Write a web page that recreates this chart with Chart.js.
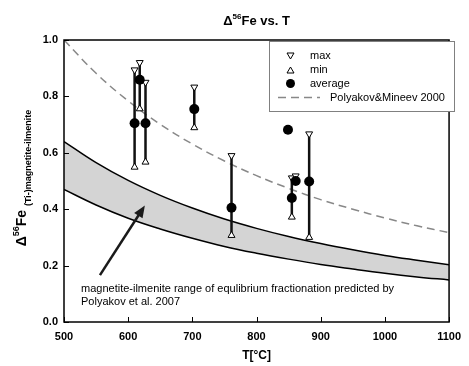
<!DOCTYPE html>
<html>
<head>
<meta charset="utf-8">
<script src="https://cdn.jsdelivr.net/npm/chart.js@4"></script>
<style>
  body { margin: 0; background: #fff; }
  #wrap { width: 469px; height: 366px; }
</style>
</head>
<body>
<div id="wrap"><canvas id="feChart" width="469" height="366"></canvas></div>
<script>
// measured samples (T in °C)
const temps   = [610, 618, 627, 703, 761, 855, 861, 882];
const maxVals = [0.894, 0.920, 0.850, 0.833, 0.590, 0.511, 0.518, 0.667];
const minVals = [0.549, 0.756, 0.567, 0.689, 0.307, 0.372, 0.505, 0.300];
const avgTemps = [610, 618, 627, 703, 761, 855, 861, 882, 849];
const avgVals  = [0.705, 0.859, 0.705, 0.755, 0.405, 0.440, 0.500, 0.498, 0.682];

// curves every 50 °C
const curveT     = [500, 550, 600, 650, 700, 750, 800, 850, 900, 950, 1000, 1050, 1100];
const mineevVals = [1.000, 0.882, 0.784, 0.701, 0.631, 0.571, 0.519, 0.474, 0.434, 0.400, 0.369, 0.341, 0.317];
const bandUpper  = [0.640, 0.565, 0.502, 0.449, 0.404, 0.365, 0.332, 0.303, 0.278, 0.256, 0.236, 0.219, 0.203];
const bandLower  = [0.470, 0.415, 0.368, 0.330, 0.297, 0.268, 0.244, 0.223, 0.204, 0.188, 0.173, 0.160, 0.149];

const xTicks = [500, 600, 700, 800, 900, 1000, 1100];
const yTicks = [0.0, 0.2, 0.4, 0.6, 0.8, 1.0];

const FONT = '"Liberation Sans", Arial, sans-serif';

function pts(xs, ys) {
    return xs.map((x, i) => ({ x: x, y: ys[i] }));
}

// stems: min -> max for each sample, with gaps in between
let stems = [];
temps.forEach(function(t, i) {
    stems.push({ x: t, y: minVals[i] });
    stems.push({ x: t, y: maxVals[i] });
    stems.push({ x: t, y: null });
});

// draws text with a raised / lowered part
function richText(ctx, parts, x, y) {
    let cx = x;
    parts.forEach(function(p) {
        ctx.font = p.font;
        ctx.fillText(p.text, cx, y + (p.dy || 0));
        cx += ctx.measureText(p.text).width;
    });
}
function richWidth(ctx, parts) {
    let w = 0;
    parts.forEach(function(p) { ctx.font = p.font; w += ctx.measureText(p.text).width; });
    return w;
}

const decorPlugin = {
    id: 'decor',
    afterDraw(chart) {
        const ctx = chart.ctx;
        const a = chart.chartArea;
        const xs = chart.scales.x, ys = chart.scales.y;
        ctx.save();

        // frame and inside ticks
        ctx.strokeStyle = '#000';
        ctx.lineWidth = 1.5;
        ctx.strokeRect(a.left, a.top, a.right - a.left, a.bottom - a.top);
        ctx.lineWidth = 1;
        ctx.beginPath();
        xTicks.forEach(function(t) {
            const px = Math.round(xs.getPixelForValue(t)) + 0.5;
            ctx.moveTo(px, a.bottom); ctx.lineTo(px, a.bottom - 5);
        });
        yTicks.forEach(function(t) {
            const py = Math.round(ys.getPixelForValue(t)) + 0.5;
            ctx.moveTo(a.left, py); ctx.lineTo(a.left + 5, py);
        });
        ctx.stroke();

        // title
        ctx.fillStyle = '#000';
        ctx.textBaseline = 'alphabetic';
        const title = [
            { text: '\u0394', font: 'bold 13px ' + FONT },
            { text: '56', font: 'bold 8px ' + FONT, dy: -6 },
            { text: 'Fe vs. T', font: 'bold 13px ' + FONT }
        ];
        const cx = (a.left + a.right) / 2;
        richText(ctx, title, cx - richWidth(ctx, title) / 2, 25);

        // y axis title (rotated)
        const ylab = [
            { text: '\u0394', font: 'bold 14px ' + FONT },
            { text: '56', font: 'bold 9px ' + FONT, dy: -7 },
            { text: 'Fe ', font: 'bold 14px ' + FONT },
            { text: '(Ti-)magnetite-ilmenite', font: 'bold 9px ' + FONT, dy: 5 }
        ];
        ctx.save();
        ctx.translate(26, 178);
        ctx.rotate(-Math.PI / 2);
        richText(ctx, ylab, -richWidth(ctx, ylab) / 2, 0);
        ctx.restore();

        // legend
        const lx = 269, ly = 41, lw = 185, lh = 70;
        ctx.fillStyle = '#fff';
        ctx.fillRect(lx, ly, lw, lh);
        ctx.strokeStyle = '#808080';
        ctx.lineWidth = 1;
        ctx.strokeRect(lx + 0.5, ly + 0.5, lw, lh);
        ctx.strokeStyle = '#000';
        ctx.fillStyle = '#fff';
        // max (down triangle)
        ctx.beginPath();
        ctx.moveTo(287, 53); ctx.lineTo(294, 53); ctx.lineTo(290.5, 59); ctx.closePath();
        ctx.fill(); ctx.stroke();
        // min (up triangle)
        ctx.beginPath();
        ctx.moveTo(287, 73); ctx.lineTo(294, 73); ctx.lineTo(290.5, 67); ctx.closePath();
        ctx.fill(); ctx.stroke();
        // average
        ctx.fillStyle = '#000';
        ctx.beginPath();
        ctx.arc(290.5, 83.5, 4.5, 0, Math.PI * 2);
        ctx.fill();
        // dashed line
        ctx.strokeStyle = '#888';
        ctx.lineWidth = 1.5;
        ctx.setLineDash([8, 5]);
        ctx.beginPath();
        ctx.moveTo(278, 97.5); ctx.lineTo(320, 97.5);
        ctx.stroke();
        ctx.setLineDash([]);
        ctx.fillStyle = '#000';
        ctx.font = '11px ' + FONT;
        ctx.textBaseline = 'middle';
        ctx.fillText('max', 310, 56);
        ctx.fillText('min', 310, 70);
        ctx.fillText('average', 310, 84);
        ctx.fillText('Polyakov&Mineev 2000', 330, 98);

        // annotation arrow
        const x0 = xs.getPixelForValue(556), y0 = ys.getPixelForValue(0.166);
        const x1 = xs.getPixelForValue(626), y1 = ys.getPixelForValue(0.413);
        const ang = Math.atan2(y1 - y0, x1 - x0);
        ctx.strokeStyle = '#1a1a1a';
        ctx.fillStyle = '#1a1a1a';
        ctx.lineWidth = 2.5;
        ctx.beginPath();
        ctx.moveTo(x0, y0);
        ctx.lineTo(x1 - 8 * Math.cos(ang), y1 - 8 * Math.sin(ang));
        ctx.stroke();
        ctx.beginPath();
        ctx.moveTo(x1, y1);
        ctx.lineTo(x1 - 12 * Math.cos(ang) + 5 * Math.sin(ang), y1 - 12 * Math.sin(ang) - 5 * Math.cos(ang));
        ctx.lineTo(x1 - 12 * Math.cos(ang) - 5 * Math.sin(ang), y1 - 12 * Math.sin(ang) + 5 * Math.cos(ang));
        ctx.closePath();
        ctx.fill();

        ctx.fillStyle = '#000';
        ctx.font = '11px ' + FONT;
        ctx.textBaseline = 'alphabetic';
        ctx.fillText('magnetite-ilmenite range of equlibrium fractionation predicted by', 81, 292);
        ctx.fillText('Polyakov et al. 2007', 81, 305);

        ctx.restore();
    }
};

new Chart(document.getElementById('feChart'), {
    type: 'line',
    data: {
        datasets: [
            {
                label: 'max',
                type: 'scatter',
                data: pts(temps, maxVals),
                pointStyle: 'triangle',
                rotation: 180,
                radius: 4,
                backgroundColor: '#fff',
                borderColor: '#000',
                borderWidth: 1,
                order: 1
            },
            {
                label: 'min',
                type: 'scatter',
                data: pts(temps, minVals),
                pointStyle: 'triangle',
                radius: 4,
                backgroundColor: '#fff',
                borderColor: '#000',
                borderWidth: 1,
                order: 1
            },
            {
                label: 'average',
                type: 'scatter',
                data: pts(avgTemps, avgVals),
                pointStyle: 'circle',
                radius: 5,
                backgroundColor: '#000',
                borderColor: '#000',
                borderWidth: 0,
                order: 0
            },
            {
                label: 'range',
                data: stems,
                borderColor: '#111',
                borderWidth: 2.5,
                pointRadius: 0,
                spanGaps: false,
                fill: false,
                order: 2
            },
            {
                label: 'Polyakov&Mineev 2000',
                data: pts(curveT, mineevVals),
                borderColor: '#888',
                borderWidth: 1.5,
                borderDash: [8, 5],
                pointRadius: 0,
                tension: 0.4,
                fill: false,
                order: 3
            },
            {
                label: 'band upper',
                data: pts(curveT, bandUpper),
                borderColor: '#000',
                borderWidth: 1.5,
                pointRadius: 0,
                tension: 0.4,
                fill: '+1',
                backgroundColor: '#d4d4d4',
                order: 5
            },
            {
                label: 'band lower',
                data: pts(curveT, bandLower),
                borderColor: '#000',
                borderWidth: 1.5,
                pointRadius: 0,
                tension: 0.4,
                fill: false,
                order: 4
            }
        ]
    },
    options: {
        responsive: false,
        animation: false,
        layout: { padding: { top: 40, right: 11, left: 0, bottom: 0 } },
        plugins: {
            legend: { display: false },
            tooltip: { enabled: false },
            title: { display: false }
        },
        scales: {
            x: {
                type: 'linear',
                min: 500,
                max: 1100,
                afterFit: function(s) { s.height = 44; },
                afterBuildTicks: function(s) { s.ticks = xTicks.map(v => ({ value: v })); },
                grid: { display: false, drawTicks: false },
                border: { display: false },
                ticks: {
                    padding: 8,
                    color: '#000',
                    font: { family: FONT, size: 11, weight: 'bold' },
                    callback: function(v) { return String(v); }
                },
                title: {
                    display: true,
                    text: 'T[°C]',
                    color: '#000',
                    padding: { top: 0, bottom: 3 },
                    font: { family: FONT, size: 12, weight: 'bold' }
                }
            },
            y: {
                min: 0,
                max: 1,
                afterFit: function(s) { s.width = 64; },
                afterBuildTicks: function(s) { s.ticks = yTicks.map(v => ({ value: v })); },
                grid: { display: false, drawTicks: false },
                border: { display: false },
                ticks: {
                    padding: 6,
                    color: '#000',
                    font: { family: FONT, size: 11, weight: 'bold' },
                    callback: function(v) { return v.toFixed(1); }
                }
            }
        }
    },
    plugins: [decorPlugin]
});
</script>
</body>
</html>
